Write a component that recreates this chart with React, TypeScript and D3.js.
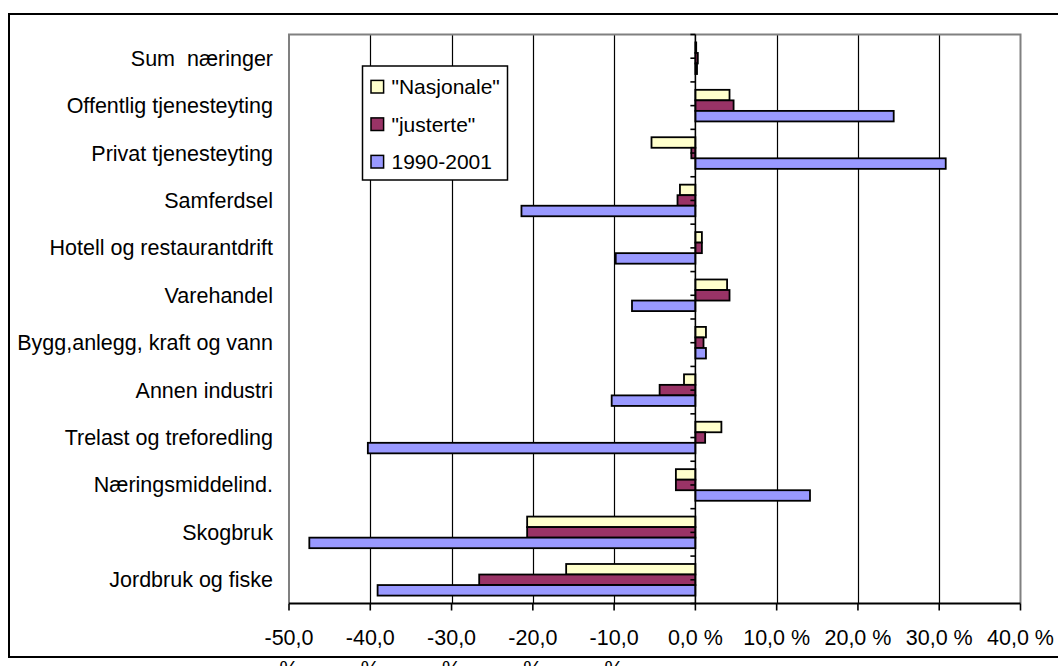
import React from "react";
import * as d3 from "d3";

const categories = [
  "Sum  næringer",
  "Offentlig tjenesteyting",
  "Privat tjenesteyting",
  "Samferdsel",
  "Hotell og restaurantdrift",
  "Varehandel",
  "Bygg,anlegg, kraft og vann",
  "Annen industri",
  "Trelast og treforedling",
  "Næringsmiddelind.",
  "Skogbruk",
  "Jordbruk og fiske",
];

const seriesNames = ["\"Nasjonale\"", "\"justerte\"", "1990-2001"];
const seriesColors = ["#FFFFCC", "#993366", "#9999FF"];

const nasjonale = [0.1, 4.2, -5.4, -1.9, 0.8, 3.9, 1.3, -1.4, 3.2, -2.4, -20.7, -15.9];
const justerte = [0.3, 4.7, -0.5, -2.2, 0.8, 4.2, 1.0, -4.4, 1.2, -2.4, -20.7, -26.6];
const periode = [0.2, 24.4, 30.8, -21.4, -9.8, -7.8, 1.3, -10.3, -40.3, 14.1, -47.5, -39.1];

const xTicks = [-50, -40, -30, -20, -10, 0, 10, 20, 30, 40];

const W = 1058;
const H = 666;
const plot = { left: 289, right: 1020.5, top: 34.5, bottom: 603.5 };
const FONT = "'Liberation Sans', Arial, sans-serif";

function fmtTick(t: number): string {
  return (t < 0 ? "-" : "") + Math.abs(t).toFixed(1).replace(".", ",");
}

export default function App() {
  const x = d3.scaleLinear().domain([-50, 40]).range([plot.left, plot.right]);
  const y = d3
    .scaleBand<string>()
    .domain(categories)
    .range([plot.top, plot.bottom])
    .paddingInner(1 / 3)
    .paddingOuter(1 / 6);
  const inner = d3
    .scaleBand<string>()
    .domain(seriesNames)
    .range([0, y.bandwidth()]);
  const allSeries = [nasjonale, justerte, periode];
  const step = y.step();
  const catTicks: number[] = [];
  for (let i = 0; i <= categories.length; i++) {
    catTicks.push(plot.top + i * step);
    if (i < categories.length) catTicks.push(plot.top + (i + 0.5) * step);
  }

  return (
    <svg
      width={W}
      height={H}
      style={{ position: "absolute", left: 0, top: 0, background: "#fff" }}
      fontFamily={FONT}
    >
      <rect x={0} y={0} width={W} height={H} fill="#fff" />
      {/* outer frame */}
      <rect x={9} y={14} width={W + 20} height={643} fill="none" stroke="#000" strokeWidth={2} />

      {/* gridlines */}
      {xTicks.slice(1, -1).map((t) =>
        t === 0 ? null : (
          <line key={t} x1={Math.round(x(t)) + 0.5} x2={Math.round(x(t)) + 0.5} y1={plot.top} y2={plot.bottom} stroke="#000" strokeWidth={1.2} />
        )
      )}
      {/* plot border */}
      <polyline
        points={`${plot.left},${plot.bottom} ${plot.left},${plot.top} ${plot.right},${plot.top} ${plot.right},${plot.bottom}`}
        fill="none"
        stroke="#808080"
        strokeWidth={2}
      />

      {/* bars */}
      {categories.map((c, ci) => (
        <g key={c}>
          {allSeries.map((s, si) => {
            const v = s[ci];
            const x0 = x(Math.min(0, v));
            const x1 = x(Math.max(0, v));
            return (
              <rect
                key={si}
                x={x0}
                y={(y(c) as number) + (inner(seriesNames[si]) as number)}
                width={Math.max(0.5, x1 - x0)}
                height={inner.bandwidth()}
                fill={seriesColors[si]}
                stroke="#000"
                strokeWidth={1.8}
              />
            );
          })}
        </g>
      ))}

      {/* category axis at zero */}
      <line x1={x(0)} x2={x(0)} y1={plot.top} y2={plot.bottom} stroke="#000" strokeWidth={1.6} />
      {catTicks.map((ty, i) => (
        <line key={i} x1={x(0) - 5} x2={x(0)} y1={ty} y2={ty} stroke="#000" strokeWidth={1.6} />
      ))}

      {/* x axis */}
      <line x1={plot.left} x2={plot.right} y1={plot.bottom} y2={plot.bottom} stroke="#000" strokeWidth={2} />
      {xTicks.map((t) => (
        <g key={t} transform={`translate(${x(t)},0)`}>
          <line y1={plot.bottom} y2={plot.bottom + 7} stroke="#000" strokeWidth={1.6} />
          {t < 0 ? (
            <>
              <text y={645} textAnchor="middle" fontSize={21.5} fill="#000">
                {fmtTick(t)}
              </text>
              <text y={676} textAnchor="middle" fontSize={21.5} fill="#000">
                %
              </text>
            </>
          ) : (
            <text y={645} textAnchor="middle" fontSize={21.5} fill="#000">
              {fmtTick(t) + " %"}
            </text>
          )}
        </g>
      ))}

      {/* category labels */}
      {categories.map((c) => (
        <text
          key={c}
          x={273}
          y={(y(c) as number) + y.bandwidth() / 2}
          dy="0.35em"
          textAnchor="end"
          fontSize={21.5}
          fill="#000"
          style={{ whiteSpace: "pre" }}
        >
          {c}
        </text>
      ))}

      {/* legend */}
      <g>
        <rect x={362.5} y={66} width={145} height={114} fill="#fff" stroke="#000" strokeWidth={1.5} />
        {seriesNames.map((n, i) => {
          const cy = 86.7 + i * 37.5;
          return (
            <g key={n}>
              <rect x={371} y={cy - 6.3} width={12.6} height={12.6} fill={seriesColors[i]} stroke="#000" strokeWidth={1.5} />
              <text x={391.5} y={cy} dy="0.35em" fontSize={21} fill="#000">
                {n}
              </text>
            </g>
          );
        })}
      </g>
    </svg>
  );
}
